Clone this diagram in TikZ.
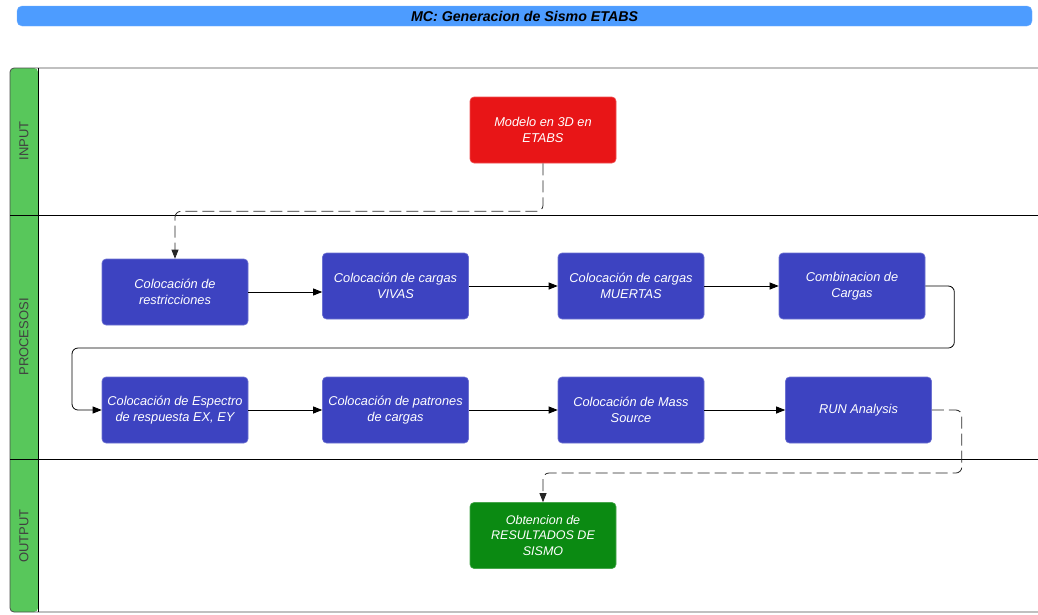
\documentclass[tikz,border=0pt]{standalone}
\usepackage{fontspec}
\setmainfont{Liberation Sans}
\usetikzlibrary{arrows.meta,positioning}
\definecolor{titleCol}{HTML}{4D9CFF}
\definecolor{laneCol}{HTML}{58C75B}
\definecolor{stepCol}{HTML}{3D43C1}
\definecolor{inCol}{HTML}{E81517}
\definecolor{outCol}{HTML}{0B8A12}
\tikzset{
  titlebar/.style={fill=titleCol, draw=titleCol!80!white, rounded corners=5pt, minimum width=1015pt,
                   minimum height=20pt, inner sep=0pt, font=\bfseries\itshape\fontsize{14.2}{16}\selectfont},
  lanelbl/.style={rotate=90, font=\fontsize{13}{15}\selectfont, text=black!75},
  stepbox/.style={fill=#1, draw=#1!75!white, line width=0.6pt, rounded corners=4pt,
                  minimum width=146pt, minimum height=66pt, inner sep=0pt, align=center,
                  text=white, font=\itshape\fontsize{12.8}{16}\selectfont},
  flow/.style={-{Triangle[length=9pt,width=7pt]}, line width=0.8pt, rounded corners=6pt},      % solid step arrow
  dflow/.style={flow, dash pattern=on 12pt off 5pt, black!85},                                % dashed lane hand-off
}

\begin{document}
\begin{tikzpicture}[x=1pt,y=-1pt]
  \useasboundingbox (0,0) rectangle (1038,614);
  % title
  \node[titlebar] (title) at (524.5,16) {MC: Generacion de Sismo ETABS};

  % pool and lanes
  \fill[laneCol, rounded corners=4pt] (10,68) rectangle (38,612);
  \draw[black!70, line width=0.8pt, rounded corners=4pt] (1040,68) -- (10,68) -- (10,612) -- (1040,612);
  \draw[line width=0.8pt] (38,68) -- (38,612);
  \draw[line width=0.8pt] (10,215) -- (1038,215);
  \draw[line width=0.8pt] (10,459) -- (1038,459);
  \node[lanelbl] (lnIn)  at (24,141) {INPUT};
  \node[lanelbl] (lnPro) at (24,337) {PROCESOSI};
  \node[lanelbl] (lnOut) at (24,536) {OUTPUT};

  % steps
  \node[stepbox=inCol]   (modelo)   at (543,130)   {Modelo en 3D en\\ETABS};
  \node[stepbox=stepCol] (restr)    at (175,292)   {Colocación de\\restricciones};
  \node[stepbox=stepCol] (vivas)    at (395.5,286) {Colocación de cargas\\VIVAS};
  \node[stepbox=stepCol] (muertas)  at (631,286)   {Colocación de cargas\\MUERTAS};
  \node[stepbox=stepCol] (combo)    at (852,286)   {Combinacion de\\Cargas};
  \node[stepbox=stepCol] (espectro) at (175,410)   {Colocación de Espectro\\de respuesta EX, EY};
  \node[stepbox=stepCol] (patrones) at (395.5,410) {Colocación de patrones\\de cargas};
  \node[stepbox=stepCol] (mass)     at (631,410)   {Colocación de Mass\\Source};
  \node[stepbox=stepCol] (run)      at (858.5,410) {RUN Analysis};
  \node[stepbox=outCol, font=\itshape\fontsize{12.5}{15.5}\selectfont] (result) at (543,535.5) {Obtencion de\\RESULTADOS DE\\SISMO};
  \coordinate (wrapL) at (72,348);

  % connectors
  \draw[dflow] (modelo.south) -- ++(0,48) -| (restr.north);
  \draw[flow] (restr.east) -- (restr.east -| vivas.west);
  \draw[flow] (vivas) -- (muertas);
  \draw[flow] (muertas) -- (combo);
  \draw[flow] (combo.east) -- ++(29,0) |- (wrapL) |- (espectro.west);
  \draw[flow] (espectro) -- (patrones);
  \draw[flow] (patrones) -- (mass);
  \draw[flow] (mass) -- (run);
  \draw[dflow] (run.east) -- ++(30,0) -- ++(0,63) -| (result.north);
\end{tikzpicture}
\end{document}
